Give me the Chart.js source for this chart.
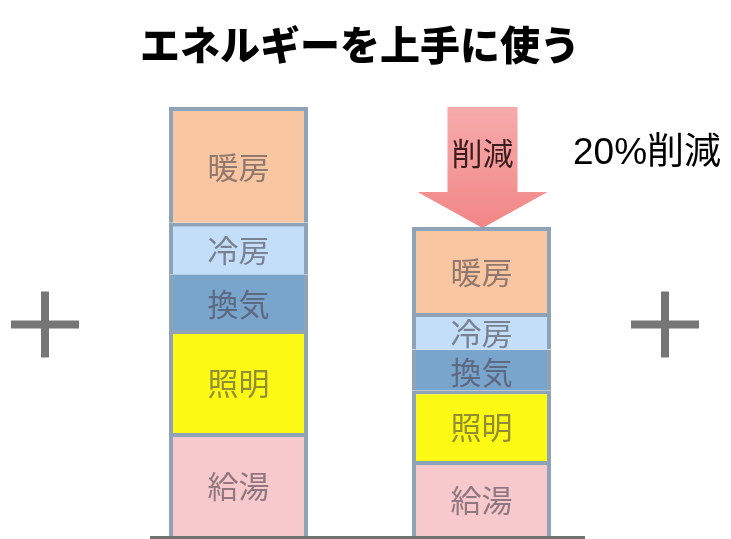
<!DOCTYPE html>
<html lang="ja">
<head>
<meta charset="utf-8">
<title>エネルギーを上手に使う</title>
<script src="https://cdn.jsdelivr.net/npm/chart.js@4/dist/chart.umd.min.js"></script>
<style>
  html, body { margin: 0; padding: 0; background: #fff; }
  #wrap { width: 731px; height: 539px; position: relative; }
</style>
</head>
<body>
<div id="wrap"><canvas id="energyChart"></canvas></div>
<script>
// two buildings: now and after savings (share of current energy use, %)
const cases = ["現在", "削減後"];
const kyuto = [24, 17.5];   // 給湯
const shomei = [24, 16.5];  // 照明
const kanki = [13, 9.5];    // 換気
const reibo = [12, 8.5];    // 冷房
const danbo = [27, 20];     // 暖房
const reductionLabel = "20%削減";
const arrowLabel = "削減";

const BORDER = "#8ea3b7";
const JP = '"Noto Sans CJK JP", "Noto Sans", sans-serif';

const mkSet = (label, data, color, border) => ({
  label: label,
  data: data,
  backgroundColor: color,
  borderColor: BORDER,
  borderWidth: border || 4,
  borderSkipped: "start",
  categoryPercentage: 0.572,
  barPercentage: 1,
});

// labels drawn in the middle of every segment
const segmentLabels = {
  id: "segmentLabels",
  afterDatasetsDraw(chart) {
    const ctx = chart.ctx;
    ctx.save();
    ctx.font = "31px " + JP;
    ctx.fillStyle = "rgba(70, 62, 72, 0.58)";
    ctx.textAlign = "center";
    ctx.textBaseline = "middle";
    chart.data.datasets.forEach((ds, i) => {
      chart.getDatasetMeta(i).data.forEach((el) => {
        ctx.fillText(ds.label, el.x, (el.y + el.base) / 2 + 2);
      });
    });
    ctx.restore();
  }
};

// arrow from old total down to new total, plus signs, baseline
const decorations = {
  id: "decorations",
  beforeDatasetsDraw(chart) {
    const ctx = chart.ctx;
    const y = chart.scales.y;
    const last = chart.getDatasetMeta(chart.data.datasets.length - 1);
    const bar = last.data[1];
    const total0 = kyuto[0] + shomei[0] + kanki[0] + reibo[0] + danbo[0];
    const yTop = y.getPixelForValue(total0);
    const yTip = bar.y + 1;
    const yHead = yTip - 36;
    const cx = bar.x + 1;

    ctx.save();
    const grad = ctx.createLinearGradient(0, yTop, 0, yTip);
    grad.addColorStop(0, "#f7abab");
    grad.addColorStop(1, "#f28686");
    ctx.fillStyle = grad;
    ctx.beginPath();
    ctx.moveTo(cx - 35, yTop);
    ctx.lineTo(cx + 35, yTop);
    ctx.lineTo(cx + 35, yHead);
    ctx.lineTo(cx + 65, yHead);
    ctx.lineTo(cx, yTip);
    ctx.lineTo(cx - 65, yHead);
    ctx.lineTo(cx - 35, yHead);
    ctx.closePath();
    ctx.fill();

    ctx.fillStyle = "#3b1d1f";
    ctx.font = "31px " + JP;
    ctx.textAlign = "center";
    ctx.textBaseline = "middle";
    ctx.fillText(arrowLabel, cx, yTop + 46);

    ctx.fillStyle = "#000";
    ctx.font = '37px "Liberation Sans", ' + JP;
    ctx.textAlign = "left";
    ctx.fillText(reductionLabel, chart.chartArea.right - 30, yTop + 47);
    ctx.restore();
  },
  afterDatasetsDraw(chart) {
    const ctx = chart.ctx;
    const area = chart.chartArea;
    const midY = (area.top + area.bottom) / 2 + 3;

    ctx.save();
    ctx.strokeStyle = "#767676";
    ctx.lineWidth = 8;
    [area.left - 72, area.right + 62].forEach((px) => {
      ctx.beginPath();
      ctx.moveTo(px - 34, midY);
      ctx.lineTo(px + 34, midY);
      ctx.moveTo(px, midY - 33);
      ctx.lineTo(px, midY + 33);
      ctx.stroke();
    });

    ctx.strokeStyle = "#727272";
    ctx.lineWidth = 3;
    ctx.beginPath();
    ctx.moveTo(area.left + 33, area.bottom + 1.5);
    ctx.lineTo(area.right - 18, area.bottom + 1.5);
    ctx.stroke();
    ctx.restore();
  }
};

new Chart(document.getElementById("energyChart").getContext("2d"), {
  type: "bar",
  data: {
    labels: cases,
    datasets: [
      mkSet("給湯", kyuto, "#f8c9cc"),
      mkSet("照明", shomei, "#fcfa14"),
      // no line between 冷房 and 換気 in the original
      mkSet("換気", kanki, "#79a5cc", { top: 0, left: 4, right: 4, bottom: 0 }),
      mkSet("冷房", reibo, "#c2def8"),
      mkSet("暖房", danbo, "#f8c6a0"),
    ],
  },
  options: {
    responsive: true,
    maintainAspectRatio: false,
    animation: false,
    layout: {
      padding: { left: 117, right: 128, top: 0, bottom: 3 },
    },
    scales: {
      x: { stacked: true, display: false },
      y: { stacked: true, display: false, min: 0, max: 100 },
    },
    plugins: {
      legend: { display: false },
      tooltip: { enabled: false },
      title: {
        display: true,
        text: "エネルギーを上手に使う",
        color: "#000",
        font: { family: JP, size: 40, weight: "900" },
        padding: { top: 21, bottom: 38 },
      },
    },
  },
  plugins: [segmentLabels, decorations],
});
</script>
</body>
</html>
